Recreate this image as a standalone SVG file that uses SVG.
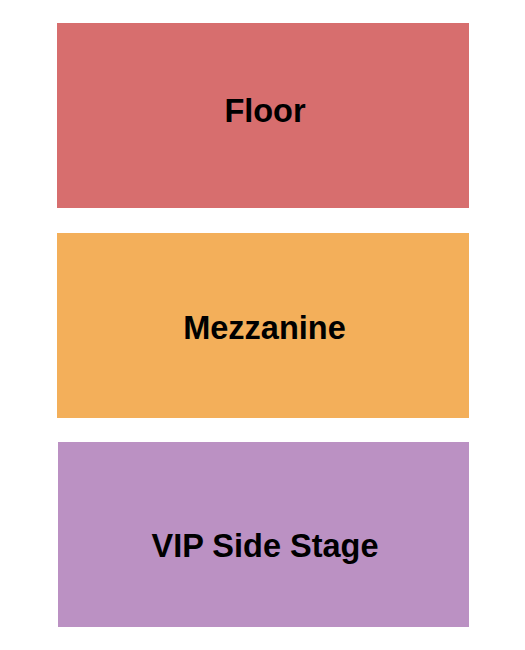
<svg xmlns="http://www.w3.org/2000/svg" width="525" height="650" viewBox="0 0 525 650">
<style>
.lbl{font-family:"Liberation Sans",Arial,sans-serif;font-weight:bold;font-size:32.5px;fill:#000;text-anchor:middle}
</style>
<rect width="525" height="650" fill="#fff"/>
<g id="floor"><rect x="57" y="23" width="412" height="185" fill="#D76E6E"/><text class="lbl" x="265" y="122">Floor</text></g>
<g id="mezzanine"><rect x="57" y="233" width="412" height="185" fill="#F3AF5A"/><text class="lbl" x="264.5" y="338.5">Mezzanine</text></g>
<g id="vip-side-stage"><rect x="58" y="442" width="411" height="185" fill="#BB91C3"/><text class="lbl" x="265" y="556.5">VIP Side Stage</text></g>
<g id="connectors"/>
</svg>
